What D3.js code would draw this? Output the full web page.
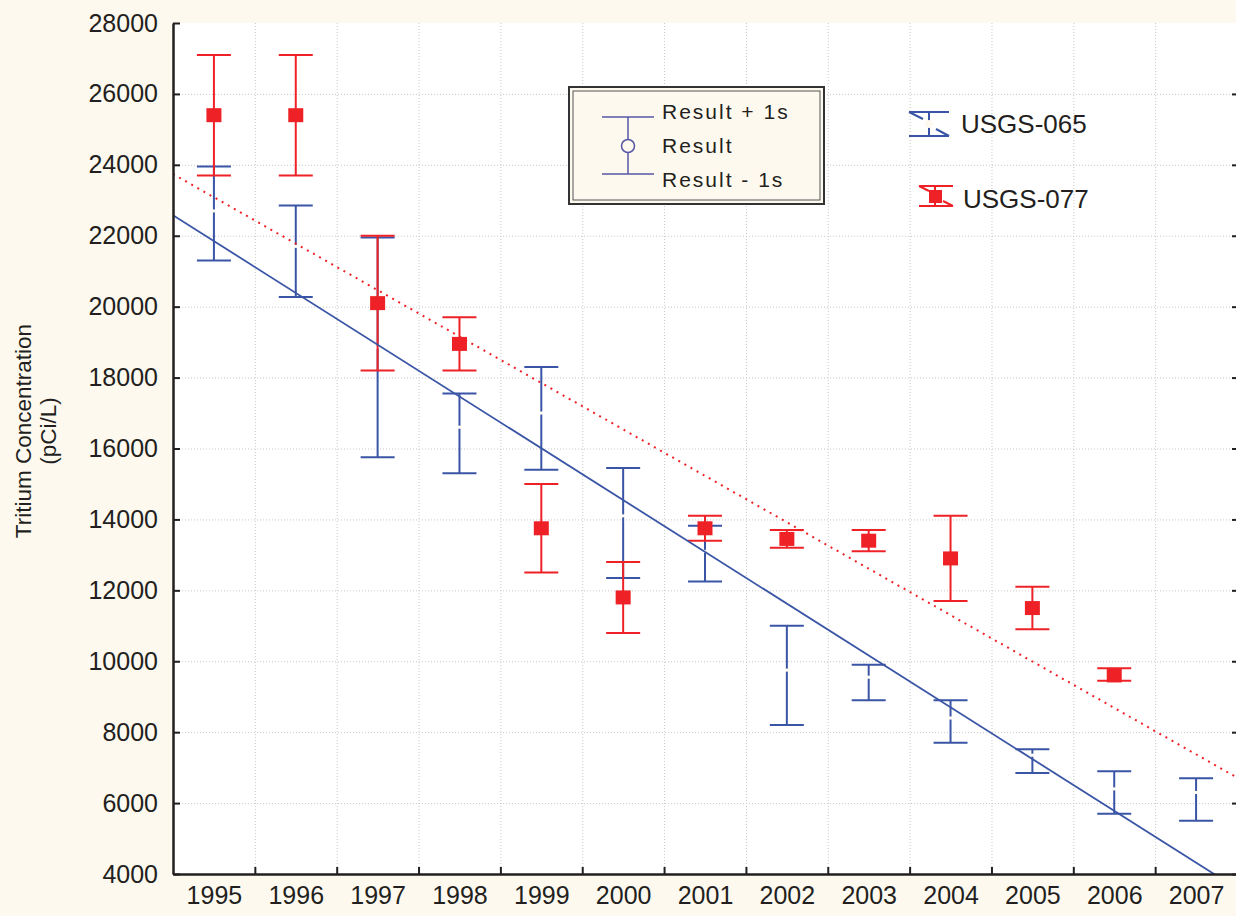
<!DOCTYPE html>
<html>
<head>
<meta charset="utf-8">
<script src="https://cdn.jsdelivr.net/npm/d3@7/dist/d3.min.js"></script>
<style>
  html, body { margin: 0; padding: 0; background: #fdf9ef; }
  svg { display: block; font-family: "Liberation Sans", Arial, sans-serif; }
</style>
</head>
<body>
<div id="graph"></div>
<script>
const years = [1995, 1996, 1997, 1998, 1999, 2000, 2001, 2002, 2003, 2004, 2005, 2006, 2007];
const yTicks = [4000, 6000, 8000, 10000, 12000, 14000, 16000, 18000, 20000, 22000, 24000, 26000, 28000];

// USGS-065 (blue)
const usgs065Mean  = [22700, 21700, 18850, 16600, 17000, 14100, 13100, 9750, 9550, 8400, 7350, 6400, 6300];
const usgs065Upper = [23950, 22850, 21950, 17550, 18300, 15450, 13820, 11000, 9900, 8900, 7520, 6900, 6700];
const usgs065Lower = [21300, 20270, 15750, 15300, 15400, 12350, 12250, 8200, 8900, 7700, 6850, 5700, 5500];

// USGS-077 (red), no 2007 sample
const usgs077Mean  = [25400, 25400, 20100, 18950, 13750, 11800, 13750, 13450, 13400, 12900, 11500, 9600, null];
const usgs077Upper = [27100, 27100, 22000, 19700, 15000, 12800, 14100, 13700, 13700, 14100, 12100, 9800, null];
const usgs077Lower = [23700, 23700, 18200, 18200, 12500, 10800, 13400, 13200, 13100, 11700, 10900, 9450, null];

// fitted trend lines, values at the left and right plot edges
const trendYears = [1994.5, 2007.5];
const trend065 = [22580, 3590];
const trend077 = [23740, 6720];

const dimension = { width: 1236, height: 916, left: 173, right: 1237, top: 23, bottom: 874 };
const ink = "#231f20";
const blue = "#3a55a5";
const red = "#ee2226";

const svg = d3.select("#graph").append("svg")
  .attr("width", dimension.width)
  .attr("height", dimension.height);

const x = d3.scaleLinear().domain([1994.5, 2007.5]).range([dimension.left, dimension.right]);
const y = d3.scaleLinear().domain([4000, 28000]).range([dimension.bottom, dimension.top]);

function series(mean, upper, lower) {
  return years.map((year, i) => ({ year, mean: mean[i], upper: upper[i], lower: lower[i] }))
    .filter(d => d.mean != null);
}

function drawFrame() {
  svg.append("rect")
    .attr("x", dimension.left).attr("y", dimension.top)
    .attr("width", dimension.right - dimension.left)
    .attr("height", dimension.bottom - dimension.top)
    .attr("fill", "#fff");

  svg.append("defs").append("clipPath").attr("id", "plot")
    .append("rect")
    .attr("x", dimension.left).attr("y", dimension.top)
    .attr("width", dimension.right - dimension.left)
    .attr("height", dimension.bottom - dimension.top);
}

function drawGrid() {
  const grid = svg.append("g")
    .attr("stroke", "#c9c9c9")
    .attr("stroke-width", 1)
    .attr("stroke-dasharray", "1,2");

  grid.selectAll(".h").data(yTicks.slice(1, -1)).join("line")
    .attr("x1", dimension.left).attr("x2", dimension.right)
    .attr("y1", d => y(d) + 0.5).attr("y2", d => y(d) + 0.5);

  grid.selectAll(".v").data(years.slice(0, -1).map(d => d + 0.5)).join("line")
    .attr("x1", d => x(d) + 0.5).attr("x2", d => x(d) + 0.5)
    .attr("y1", dimension.top).attr("y2", dimension.bottom);
}

function drawAxis() {
  const left = svg.append("g")
    .attr("transform", `translate(${dimension.left},0)`)
    .call(d3.axisLeft(y).tickValues(yTicks).tickSize(-7).tickSizeOuter(0).tickPadding(15).tickFormat(d3.format("d")));
  left.select(".domain").attr("stroke", ink).attr("stroke-width", 2.5);
  left.selectAll(".tick line").attr("stroke", ink).attr("stroke-width", 2);
  left.selectAll(".tick text").attr("fill", ink).attr("font-size", 25).attr("font-family", null);

  const right = svg.append("g")
    .attr("transform", `translate(${dimension.width},0)`)
    .call(d3.axisRight(y).tickValues(yTicks.slice(0, -1)).tickSize(-4).tickFormat(""));
  right.select(".domain").remove();
  right.selectAll(".tick line").attr("stroke", ink).attr("stroke-width", 2);

  const bottom = svg.append("g")
    .attr("transform", `translate(0,${dimension.bottom})`)
    .call(d3.axisBottom(x).tickValues(years.slice(0, -1).map(d => d + 0.5)).tickSize(-7).tickSizeOuter(0).tickFormat(""));
  bottom.select(".domain").attr("stroke", ink).attr("stroke-width", 2.5);
  bottom.selectAll(".tick line").attr("stroke", ink).attr("stroke-width", 2);

  const labels = svg.append("g")
    .attr("transform", `translate(0,${dimension.bottom})`)
    .call(d3.axisBottom(x).tickValues(years).tickSize(0).tickPadding(12).tickFormat(d3.format("d")));
  labels.select(".domain").remove();
  labels.selectAll(".tick text").attr("fill", ink).attr("font-size", 25).attr("font-family", null);

  // y axis title
  svg.append("text")
    .attr("transform", "translate(31,431) rotate(-90)")
    .style("text-anchor", "middle")
    .attr("font-size", 22.5)
    .attr("fill", ink)
    .text("Tritium Concentration");
  svg.append("text")
    .attr("transform", "translate(56,431) rotate(-90)")
    .style("text-anchor", "middle")
    .attr("font-size", 22.5)
    .attr("fill", ink)
    .text("(pCi/L)");
}

function drawErrorBars(data, color, marker) {
  const g = svg.append("g").attr("stroke", color).attr("stroke-width", 2);
  const cap = 17;

  g.selectAll(".stem").data(data).join("line")
    .attr("x1", d => x(d.year)).attr("x2", d => x(d.year))
    .attr("y1", d => y(d.upper)).attr("y2", d => y(d.lower));

  g.selectAll(".top").data(data).join("line")
    .attr("x1", d => x(d.year) - cap).attr("x2", d => x(d.year) + cap)
    .attr("y1", d => y(d.upper)).attr("y2", d => y(d.upper));

  g.selectAll(".low").data(data).join("line")
    .attr("x1", d => x(d.year) - cap).attr("x2", d => x(d.year) + cap)
    .attr("y1", d => y(d.lower)).attr("y2", d => y(d.lower));

  if (marker === "square") {
    svg.append("g").selectAll("rect").data(data).join("rect")
      .attr("x", d => x(d.year) - 7.5).attr("y", d => y(d.mean) - 7)
      .attr("width", 15).attr("height", 14)
      .attr("fill", color);
  } else {
    // tiny white point: shows as a gap in the stem
    svg.append("g").selectAll("rect").data(data).join("rect")
      .attr("x", d => x(d.year) - 2).attr("y", d => y(d.mean) - 1.5)
      .attr("width", 4).attr("height", 3)
      .attr("fill", "#fffdf8");
  }
}

function drawTrend(values, color, dash) {
  const line = d3.line().x(d => x(d[0])).y(d => y(d[1]));
  svg.append("path")
    .datum(trendYears.map((t, i) => [t, values[i]]))
    .attr("clip-path", "url(#plot)")
    .attr("fill", "none")
    .attr("stroke", color)
    .attr("stroke-width", dash ? 2 : 1.8)
    .attr("stroke-dasharray", dash)
    .attr("d", line);
}

function drawLegendBox() {
  const g = svg.append("g");
  g.append("rect").attr("x", 569).attr("y", 87).attr("width", 255).attr("height", 117)
    .attr("fill", "#fdf9ef").attr("stroke", "#333").attr("stroke-width", 2);
  g.append("rect").attr("x", 573).attr("y", 91).attr("width", 247).attr("height", 109)
    .attr("fill", "none").attr("stroke", "#555").attr("stroke-width", 1);

  const c = "#5656a6";
  g.append("line").attr("x1", 628).attr("x2", 628).attr("y1", 117).attr("y2", 174).attr("stroke", c).attr("stroke-width", 1.5);
  g.append("line").attr("x1", 602).attr("x2", 654).attr("y1", 117).attr("y2", 117).attr("stroke", c).attr("stroke-width", 1.5);
  g.append("line").attr("x1", 602).attr("x2", 654).attr("y1", 174).attr("y2", 174).attr("stroke", c).attr("stroke-width", 1.5);
  g.append("circle").attr("cx", 628).attr("cy", 146).attr("r", 6.5)
    .attr("fill", "#fdf9ef").attr("stroke", c).attr("stroke-width", 1.5);

  const rows = ["Result + 1s", "Result", "Result - 1s"];
  g.selectAll("text").data(rows).join("text")
    .attr("x", 662).attr("y", (d, i) => 112 + i * 34)
    .attr("dy", "0.35em")
    .attr("font-size", 21)
    .attr("letter-spacing", 2)
    .attr("fill", ink)
    .text(d => d);
}

function drawSeriesLegend() {
  const g = svg.append("g").attr("stroke-width", 2);

  // USGS-065 key
  const b = g.append("g").attr("stroke", blue);
  b.append("line").attr("x1", 909).attr("x2", 949).attr("y1", 112).attr("y2", 112);
  b.append("line").attr("x1", 909).attr("x2", 949).attr("y1", 136).attr("y2", 136);
  b.append("line").attr("x1", 929).attr("x2", 929).attr("y1", 112).attr("y2", 136);
  b.append("line").attr("x1", 909).attr("x2", 923).attr("y1", 112).attr("y2", 119);
  b.append("line").attr("x1", 936).attr("x2", 949).attr("y1", 129).attr("y2", 136);
  g.append("circle").attr("cx", 929).attr("cy", 124).attr("r", 4).attr("fill", "#fdf9ef").attr("stroke", "none");
  g.append("text").attr("x", 961).attr("y", 133).attr("font-size", 26).attr("fill", ink).attr("stroke", "none").text("USGS-065");

  // USGS-077 key
  const r = g.append("g").attr("stroke", red);
  r.append("line").attr("x1", 919).attr("x2", 953).attr("y1", 186).attr("y2", 186);
  r.append("line").attr("x1", 919).attr("x2", 953).attr("y1", 206).attr("y2", 206);
  r.append("line").attr("x1", 935).attr("x2", 935).attr("y1", 186).attr("y2", 206);
  r.append("line").attr("x1", 919).attr("x2", 929).attr("y1", 186).attr("y2", 191);
  r.append("line").attr("x1", 943).attr("x2", 953).attr("y1", 201).attr("y2", 206);
  g.append("rect").attr("x", 929).attr("y", 190).attr("width", 13).attr("height", 13).attr("fill", red).attr("stroke", "none");
  g.append("text").attr("x", 963).attr("y", 208).attr("font-size", 26).attr("fill", ink).attr("stroke", "none").text("USGS-077");
}

drawFrame();
drawGrid();
drawErrorBars(series(usgs065Mean, usgs065Upper, usgs065Lower), blue, "point");
drawErrorBars(series(usgs077Mean, usgs077Upper, usgs077Lower), red, "square");
drawTrend(trend065, blue, null);
drawTrend(trend077, red, "2,5");
drawAxis();
drawLegendBox();
drawSeriesLegend();
</script>
</body>
</html>
